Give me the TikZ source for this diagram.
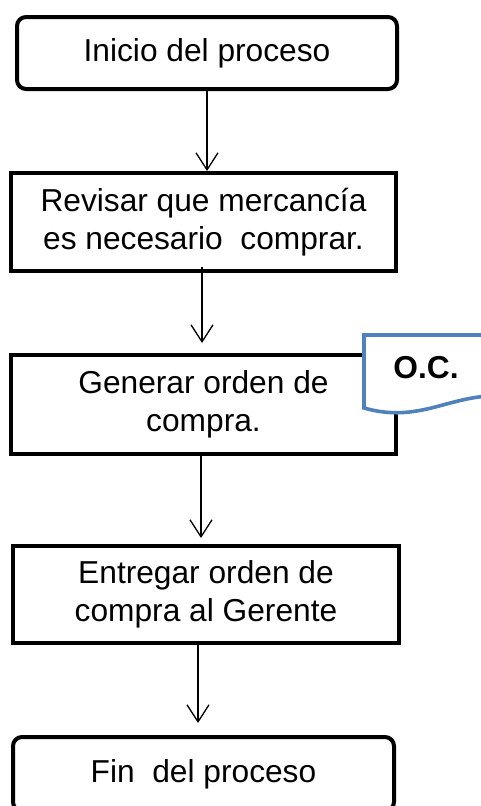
\documentclass[tikz,border=0pt]{standalone}
\usepackage{fontspec}
\setmainfont{Liberation Sans}
\usetikzlibrary{positioning,arrows.meta}
\definecolor{ocblue}{HTML}{4F81BD}

\begin{document}
\begin{tikzpicture}[x=1pt, y=-1pt,
    proc/.style={draw, line width=4pt, align=center, minimum width=385pt, minimum height=98pt,
        font=\fontsize{31.7}{37.5}\selectfont},
    term/.style={proc, rounded corners=9pt, minimum height=72pt},
    flow/.style={line width=1.3pt, -{Straight Barb[length=17pt,width=22pt]}},
    docline/.style={draw=ocblue, fill=white, line width=3.6pt}]
    \useasboundingbox (0,0) rectangle (481,806);
    \clip (0,0) rectangle (481,806);
    \node[term, minimum width=380pt] (inicio) at (207,53) {Inicio del proceso};
    \node[proc, below=80pt of inicio, xshift=-3.5pt] (revisar) {Revisar que mercancía\\es necesario~~comprar.};
    \node[proc, below=80pt of revisar, minimum height=99pt] (generar) {Generar orden de\\compra.};
    \node[proc, below=88pt of generar, xshift=2.5pt, minimum width=386pt, minimum height=97pt] (entregar) {Entregar orden de\\compra al Gerente};
    \node[term, below=90pt of entregar, xshift=-2.5pt, minimum width=381pt, minimum height=74pt] (fin) {Fin~~del proceso};

    \draw[flow] (inicio.south) -- (inicio.south |- revisar.north);
    \draw[flow, shorten <=-6pt, shorten >=10pt] ([xshift=-1.5pt]revisar.south) -- ([xshift=-1.5pt]revisar.south |- generar.north);
    \draw[flow, shorten >=6pt] ([xshift=-2.5pt]generar.south) -- ([xshift=-2.5pt]generar.south |- entregar.north);
    \draw[flow, shorten >=12pt] ([xshift=-8pt]entregar.south) -- ([xshift=-8pt]entregar.south |- fin.north);

    \draw[docline] (364,335) -- (500,335) -- (500,396) .. controls (450,394) and (420,424) .. (364,408) -- cycle;
    \node[font=\fontsize{31.7}{37.5}\selectfont\bfseries] (oc) at (426,368) {O.C.};
\end{tikzpicture}
\end{document}
